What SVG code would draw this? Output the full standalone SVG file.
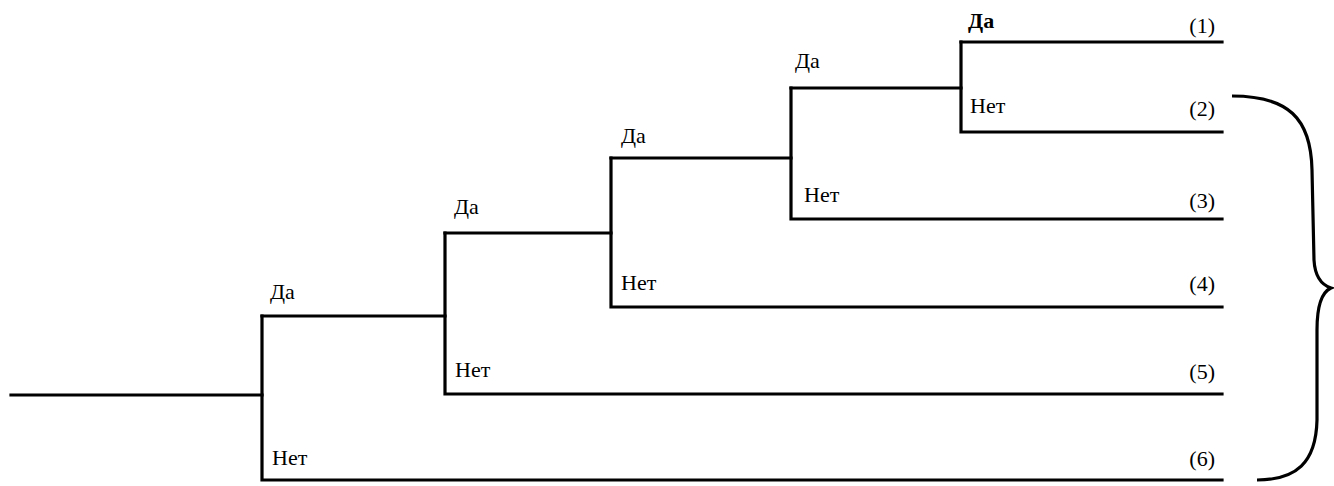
<svg xmlns="http://www.w3.org/2000/svg" width="1334" height="486" viewBox="0 0 1334 486">
<style>
.ln{fill:none;stroke:#000;stroke-width:3.2;stroke-linecap:square}
.t{font-family:'Liberation Serif','DejaVu Serif','Times New Roman',Times,serif;font-size:22px;fill:#000}
.b{font-weight:bold}
.r{text-anchor:end}
</style>
<rect width="1334" height="486" fill="#fff"/>
<g id="connectors">
<path class="ln" d="M11,395 H262"/>
<path class="ln" d="M262,316 V480 H1222"/>
<path class="ln" d="M262,316 H445"/>
<path class="ln" d="M445,233 V394 H1222"/>
<path class="ln" d="M445,233 H611"/>
<path class="ln" d="M611,158 V307 H1222"/>
<path class="ln" d="M611,158 H791"/>
<path class="ln" d="M791,88 V219 H1222"/>
<path class="ln" d="M791,88 H961"/>
<path class="ln" d="M961,42 V132 H1222"/>
<path class="ln" d="M961,42 H1222"/>
</g>
<g class="t" font-family="Liberation Serif, DejaVu Serif, serif">
<g id="node1"><text x="270" y="299">Да</text><text x="272" y="465">Нет</text></g>
<g id="node2"><text x="454" y="214">Да</text><text x="455" y="377">Нет</text></g>
<g id="node3"><text x="621" y="143">Да</text><text x="621" y="290">Нет</text></g>
<g id="node4"><text x="795" y="68">Да</text><text x="804" y="202">Нет</text></g>
<g id="node5"><text class="b" x="968" y="28">Да</text><text x="970" y="113">Нет</text></g>
<g id="outcomes">
<text class="r" x="1215" y="33">(1)</text>
<text class="r" x="1215" y="116">(2)</text>
<text class="r" x="1215" y="208">(3)</text>
<text class="r" x="1215" y="291">(4)</text>
<text class="r" x="1215" y="379">(5)</text>
<text class="r" x="1215" y="466">(6)</text>
</g>
</g>
<g id="brace">
<path d="M1232,96 C1288,96 1311,118 1312,170 L1314,260 C1315,278 1322,285 1331,288 C1322,292 1317,305 1317,330 L1317,420 C1316,463 1296,480 1257,480" fill="none" stroke="#000" stroke-width="3.2"/>
</g>
</svg>
